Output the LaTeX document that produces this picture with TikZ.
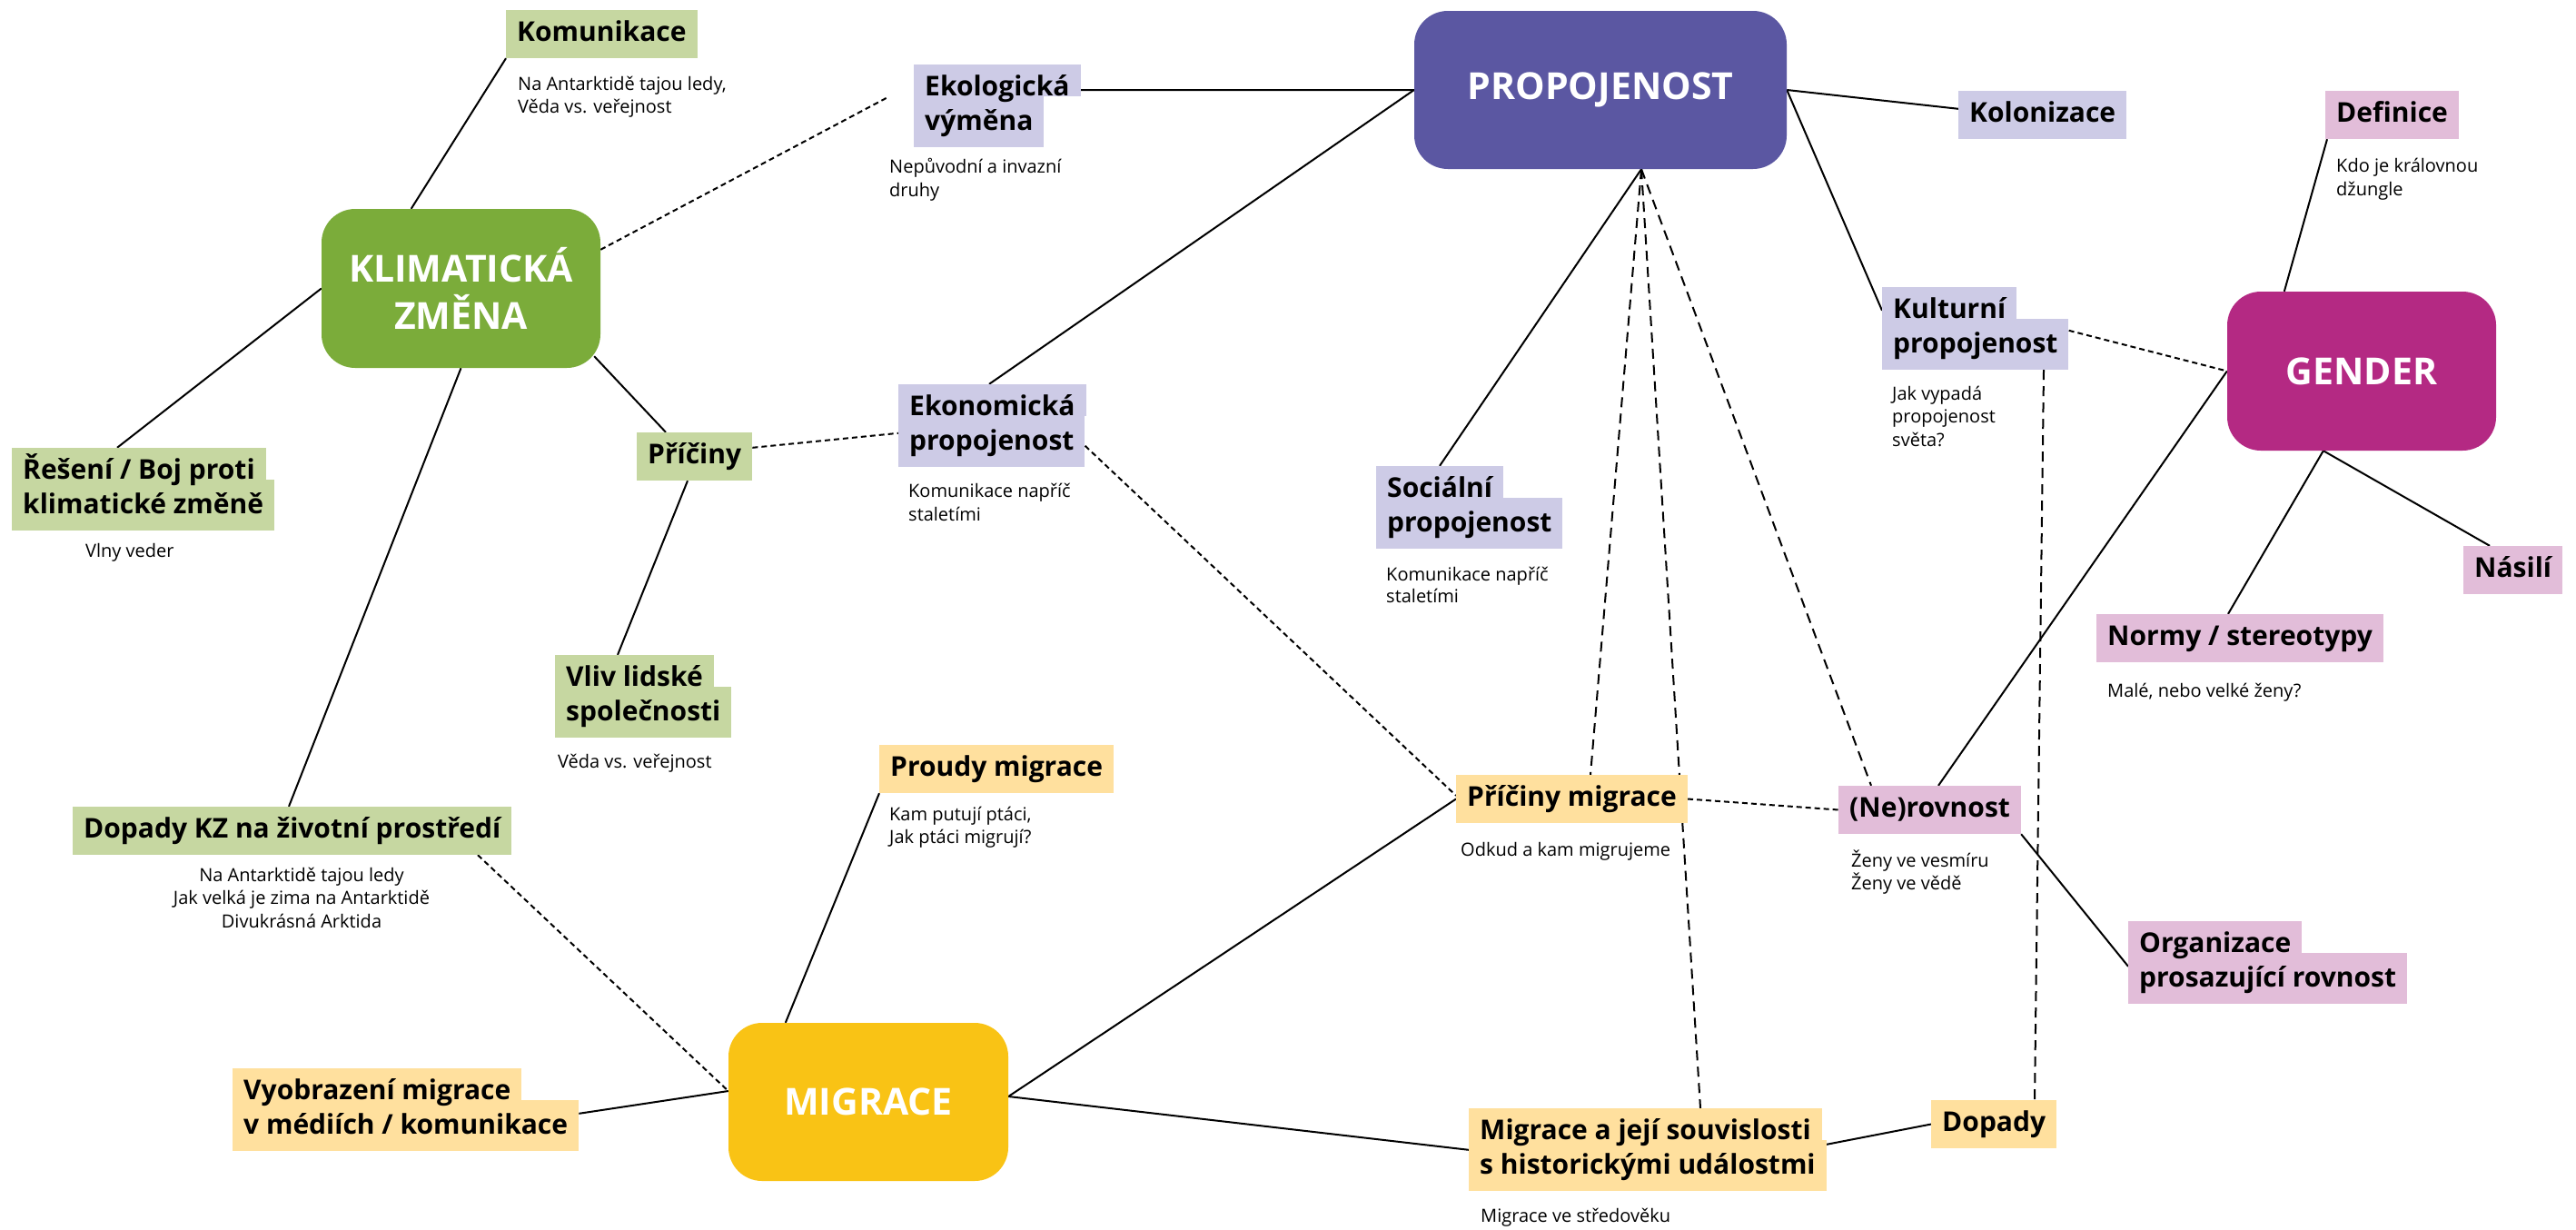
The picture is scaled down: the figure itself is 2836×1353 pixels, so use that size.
\documentclass[tikz,border=0pt]{standalone}
\usepackage{fontspec}
\setmainfont{Open Sans}
\usetikzlibrary{calc,backgrounds}
\definecolor{kzc}{HTML}{7BAC3A}
\definecolor{kzl}{HTML}{C6D7A1}
\definecolor{prc}{HTML}{5B57A2}
\definecolor{prl}{HTML}{CDCBE6}
\definecolor{gec}{HTML}{B42983}
\definecolor{gel}{HTML}{E2BDD9}
\definecolor{mic}{HTML}{F9C315}
\definecolor{mil}{HTML}{FFE09E}
\begin{document}
\begin{tikzpicture}[x=1pt,y=-1pt,
  hub/.style={rounded corners=37pt, inner sep=0pt, text=white, font=\fontsize{41}{52}\selectfont\bfseries, align=center},
  lab/.style={anchor=base west, inner xsep=12pt, inner ysep=0pt, font=\fontsize{30}{38}\selectfont\bfseries, text height=34pt, text depth=19pt},
  labtop/.style={lab, text depth=1pt},
  labbot/.style={lab, text height=37pt},
  note/.style={anchor=base west, inner sep=0pt, font=\fontsize{20}{25}\selectfont},
  con/.style={line width=2pt},
  dot/.style={line width=2pt, dash pattern=on 6pt off 4pt},
  dsh/.style={line width=2pt, dash pattern=on 11pt off 7pt}]
\useasboundingbox (0,0) rectangle (2836,1353);

% hubs
\node[hub, fill=kzc, minimum width=307pt, minimum height=175pt] (kz) at (507.5,317.5) {KLIMATICKÁ\\ZMĚNA};
\node[hub, fill=prc, minimum width=410pt, minimum height=174pt] (prop) at (1762,99) {PROPOJENOST};
\node[hub, fill=gec, minimum width=296pt, minimum height=175pt] (gen) at (2600,408.5) {GENDER};
\node[hub, fill=mic, minimum width=308pt, minimum height=174pt] (mig) at (956,1213) {MIGRACE};

% labels (second line drawn first so that descenders of the first line stay visible)
\node[lab, fill=kzl] (kom) at (557,45) {Komunikace};
\node[labbot, fill=prl] (ekol2) at (1006,143) {výměna};
\node[labtop, fill=prl] (ekol1) at (1006,105) {Ekologická};
\node[labbot, fill=kzl] (res2) at (13,565) {klimatické změně};
\node[labtop, fill=kzl] (res1) at (13,527) {Řešení / Boj proti};
\node[lab, fill=kzl] (pri) at (701,510) {Příčiny};
\node[labbot, fill=prl] (ekon2) at (989,495) {propojenost};
\node[labtop, fill=prl] (ekon1) at (989,457) {Ekonomická};
\node[labbot, fill=kzl] (vliv2) at (611,793) {společnosti};
\node[labtop, fill=kzl] (vliv1) at (611,755) {Vliv lidské};
\node[lab, fill=kzl] (dkz) at (80,922) {Dopady KZ na životní prostředí};
\node[labbot, fill=prl] (soc2) at (1515,585) {propojenost};
\node[labtop, fill=prl] (soc1) at (1515,547) {Sociální};
\node[lab, fill=prl] (kol) at (2156,134) {Kolonizace};
\node[labbot, fill=prl] (kul2) at (2072,388) {propojenost};
\node[labtop, fill=prl] (kul1) at (2072,350) {Kulturní};
\node[lab, fill=gel] (def) at (2560,134) {Definice};
\node[lab, fill=gel] (nas) at (2712,635) {Násilí};
\node[lab, fill=gel] (nor) at (2308,710) {Normy / stereotypy};
\node[lab, fill=gel] (ner) at (2024,899) {(Ne)rovnost};
\node[labbot, fill=gel] (org2) at (2343,1086) {prosazující rovnost};
\node[labtop, fill=gel] (org1) at (2343,1048) {Organizace};
\node[lab, fill=mil] (prou) at (968,854) {Proudy migrace};
\node[lab, fill=mil] (prim) at (1603,887) {Příčiny migrace};
\node[labbot, fill=mil] (vyo2) at (256,1248) {v médiích / komunikace};
\node[labtop, fill=mil] (vyo1) at (256,1210) {Vyobrazení migrace};
\node[labbot, fill=mil] (mig2) at (1617,1292) {s historickými událostmi};
\node[labtop, fill=mil] (mig1) at (1617,1254) {Migrace a její souvislosti};
\node[lab, fill=mil] (dpd) at (2126,1245) {Dopady};

% notes
\node[note] (n1a) at (570,99) {Na Antarktidě tajou ledy,};
\node[note] (n1b) at (570,124) {Věda vs. veřejnost};
\node[note] (n2a) at (979,190) {Nepůvodní a invazní};
\node[note] (n2b) at (979,216) {druhy};
\node[note] (n3) at (94,613) {Vlny veder};
\node[note] (n4a) at (1000,547) {Komunikace napříč};
\node[note] (n4b) at (1000,573) {staletími};
\node[note] (n5a) at (1526,639) {Komunikace napříč};
\node[note] (n5b) at (1526,663) {staletími};
\node[note] (n6a) at (2083,440) {Jak vypadá};
\node[note] (n6b) at (2083,465) {propojenost};
\node[note] (n6c) at (2083,491) {světa?};
\node[note] (n7a) at (2572,189) {Kdo je královnou};
\node[note] (n7b) at (2572,215) {džungle};
\node[note] (n8) at (614,845) {Věda vs. veřejnost};
\node[note, anchor=base] (n9a) at (332,970) {Na Antarktidě tajou ledy};
\node[note, anchor=base] (n9b) at (332,995) {Jak velká je zima na Antarktidě};
\node[note, anchor=base] (n9c) at (332,1021) {Divukrásná Arktida};
\node[note] (n10a) at (979,903) {Kam putují ptáci,};
\node[note] (n10b) at (979,928) {Jak ptáci migrují?};
\node[note] (n11) at (1608,942) {Odkud a kam migrujeme};
\node[note] (n12) at (2320,767) {Malé, nebo velké ženy?};
\node[note] (n13a) at (2038,954) {Ženy ve vesmíru};
\node[note] (n13b) at (2038,979) {Ženy ve vědě};
\node[note] (n14) at (1630,1345) {Migrace ve středověku};

\begin{scope}[on background layer]
\fill[white] (0,0) rectangle (2836,1353);
\draw[con] (kz.122) -- (kom.south west);
\draw[con] (kz.west) -- ($(res1.north west)+(116,0)$);
\draw[con] (kz.south) -- ($(dkz.north west)+(238,0)$);
\draw[con] ($(kz.south east)+(-7,-13)$) -- ($(pri.north west)+(32,0)$);
\draw[con] ($(pri.south west)+(56,0)$) -- ($(vliv1.north west)+(69,0)$);
\draw[dot] ($(pri.north east)+(0,17)$) -- ($(ekon2.north west)+(0,19)$);
\draw[dot] ($(kz.north east)+(0,45)$) -- ($(ekol1.south west)+(-27,0)$);
\draw[con] ($(ekol1.south east)+(0,-7)$) -- (prop.west);
\draw[con] ($(ekon1.north west)+(100,0)$) -- (prop.west);
\draw[dot] ($(ekon2.north east)+(0,33)$) -- ($(prim.north west)+(0,23)$);
\draw[con] ($(soc1.north west)+(70,0)$) -- ($(prop.south)+(45,0)$);
\draw[dsh] ($(prop.south)+(45,0)$) -- ($(prim.north west)+(148,0)$);
\draw[dsh] ($(prop.south)+(45,0)$) -- ($(mig1.north west)+(255,0)$);
\draw[dsh] ($(prop.south)+(45,0)$) -- ($(ner.north west)+(36,0)$);
\draw[con] (prop.east) -- ($(kol.north west)+(0,20)$);
\draw[con] (prop.east) -- ($(kul1.north west)+(0,26)$);
\draw[dot] ($(kul2.north east)+(0,13)$) -- (gen.west);
\draw[dsh] ($(kul2.south west)+(178,0)$) -- ($(dpd.north west)+(114,0)$);
\draw[con] ($(def.south west)+(2,0)$) -- ($(gen.north west)+(63,0)$);
\draw[con] ($(gen.south west)+(106,0)$) -- ($(nas.north west)+(29,0)$);
\draw[con] ($(gen.south west)+(106,0)$) -- ($(nor.north west)+(145,0)$);
\draw[con] (gen.west) -- ($(ner.north west)+(110,0)$);
\draw[dot] (prim.east) -- (ner.west);
\draw[con] (ner.south east) -- ($(org2.north west)+(0,15)$);
\draw[dot] ($(dkz.south west)+(446,0)$) -- ($(mig.west)+(0,-12)$);
\draw[con] ($(vyo2.north east)+(0,15)$) -- ($(mig.west)+(0,-12)$);
\draw[con] ($(mig.north west)+(63,0)$) -- (prou.south west);
\draw[con] ($(mig.east)+(0,-6)$) -- (prim.west);
\draw[con] ($(mig.east)+(0,-6)$) -- ($(mig2.north west)+(0,11)$);
\draw[con] ($(mig2.north east)+(0,5)$) -- (dpd.west);
\end{scope}
\end{tikzpicture}
\end{document}
